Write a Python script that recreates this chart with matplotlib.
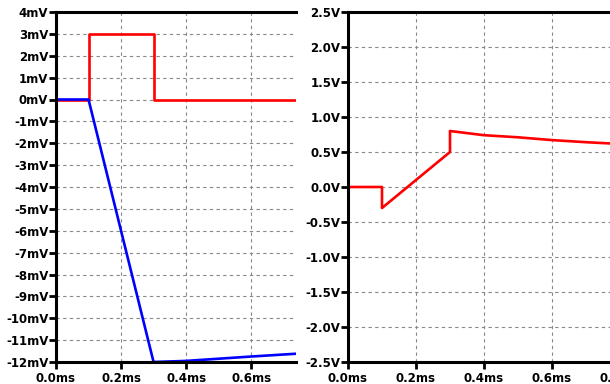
import matplotlib
matplotlib.use('Agg')
import matplotlib.pyplot as plt

# left panel: input step (red) and integrator voltage (blue), in mV
t_in = [0.0, 0.1, 0.1, 0.3, 0.3, 0.74]
v_in = [0, 0, 3, 3, 0, 0]
t_int = [0.0, 0.1, 0.3, 0.4, 0.5, 0.6, 0.74]
v_int = [0, 0, -12, -11.95, -11.85, -11.75, -11.62]

# right panel: output voltage, in V
t_out = [0.0, 0.1, 0.1, 0.3, 0.3, 0.4, 0.5, 0.6, 0.7, 0.78]
v_out = [0, 0, -0.3, 0.5, 0.8, 0.74, 0.71, 0.67, 0.64, 0.62]

mv_ticks = list(range(4, -13, -1))
v_ticks = [2.5, 2.0, 1.5, 1.0, 0.5, 0.0, -0.5, -1.0, -1.5, -2.0, -2.5]
ms_ticks = [0.0, 0.2, 0.4, 0.6, 0.8]


def style_axis(ax):
    """
    LTspice-like look: thick black frame on left/top/bottom, dashed grey grid.
    """
    ax.grid(True, color='#888888', linestyle=(0, (3, 3)), linewidth=0.8)
    ax.set_axisbelow(True)
    for side in ['left', 'top', 'bottom']:
        ax.spines[side].set_linewidth(2.2)
        ax.spines[side].set_color('black')
    ax.spines['right'].set_visible(False)
    ax.tick_params(axis='both', direction='out', length=5, width=2,
                   labelsize=8.5)
    ax.tick_params(axis='y', pad=0.5)
    ax.tick_params(axis='x', pad=2.5)
    for lab in ax.get_xticklabels() + ax.get_yticklabels():
        lab.set_fontweight('bold')


def main():
    fig = plt.figure(figsize=(6.1, 3.84), dpi=100)
    W, H = 610, 384

    # left plot
    ax1 = fig.add_axes([56 / W, (H - 362) / H, 240 / W, 350 / H])
    ax1.plot(t_in, v_in, color='#ff0000', linewidth=1.9)
    ax1.plot(t_int, v_int, color='#0000ff', linewidth=1.9)
    ax1.set_xlim(0, 0.738)
    ax1.set_ylim(-12, 4)
    ax1.set_yticks(mv_ticks)
    ax1.set_yticklabels([f'{v}mV' for v in mv_ticks])
    ax1.set_xticks(ms_ticks[:4])
    ax1.set_xticklabels([f'{t:.1f}ms' for t in ms_ticks[:4]])
    style_axis(ax1)

    # right plot, runs past the figure edge
    ax2 = fig.add_axes([348 / W, (H - 362) / H, 289 / W, 350 / H])
    ax2.plot(t_out, v_out, color='#ff0000', linewidth=1.9)
    ax2.set_xlim(0, 0.85)
    ax2.set_ylim(-2.5, 2.5)
    ax2.set_yticks(v_ticks)
    ax2.set_yticklabels([f'{v:.1f}V' for v in v_ticks])
    ax2.set_xticks(ms_ticks)
    ax2.set_xticklabels([f'{t:.1f}ms' for t in ms_ticks])
    style_axis(ax2)

    fig.savefig('out.png', dpi=100)


if __name__ == '__main__':
    main()
